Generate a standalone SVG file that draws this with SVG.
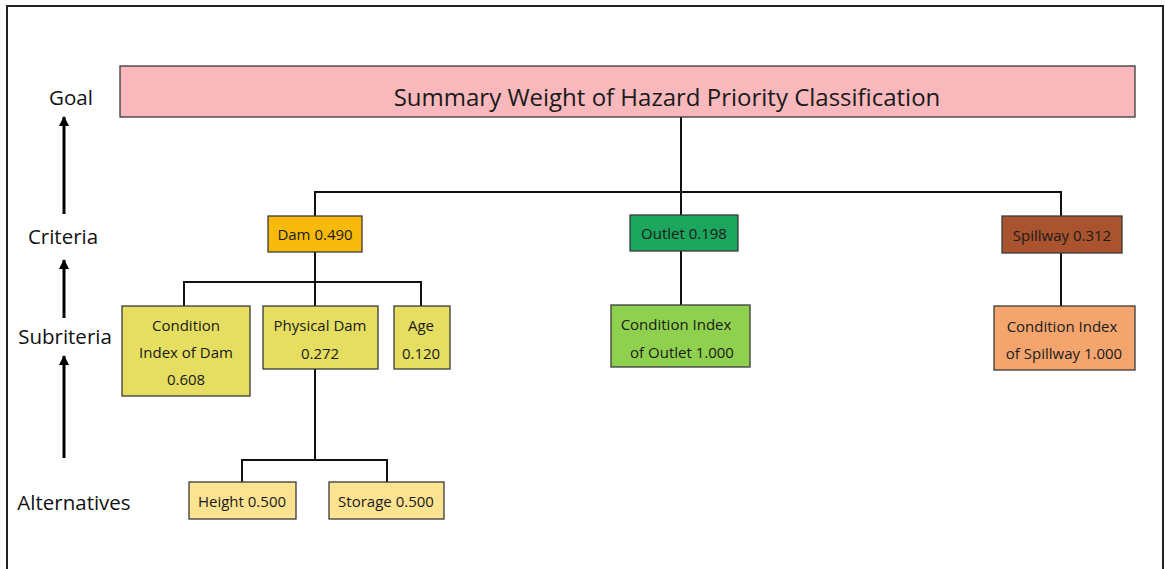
<svg xmlns="http://www.w3.org/2000/svg" width="1165" height="569" viewBox="0 0 1165 569">
<style>
  .box { stroke: #3a3a3a; stroke-width: 1.3; }
  .t { font-family: "Open Sans", "DejaVu Sans", sans-serif; font-size: 15px; fill: #1a1a1a; text-anchor: middle; dominant-baseline: central; }
  .lab { font-family: "Open Sans", "DejaVu Sans", sans-serif; font-size: 20.5px; fill: #111; text-anchor: middle; dominant-baseline: central; }
  .title { font-family: "Open Sans", "DejaVu Sans", sans-serif; font-size: 24px; fill: #1a1a1a; text-anchor: middle; dominant-baseline: central; }
  .conn { stroke: #111; stroke-width: 2; fill: none; }
  .arr { stroke: #000; stroke-width: 3; fill: none; }
</style>
<defs>
  <marker id="ah" viewBox="0 0 10 10" refX="9" refY="5" markerWidth="3.5" markerHeight="3.5" orient="auto" markerUnits="strokeWidth">
    <path d="M0,0 L10,5 L0,10 z" fill="#000"/>
  </marker>
</defs>
<rect width="1165" height="569" fill="#fff"/>
<rect x="7" y="6" width="1156" height="580" fill="none" stroke="#222" stroke-width="2"/>

<g id="level-labels">
  <text class="lab" x="71" y="97">Goal</text>
  <text class="lab" x="63" y="236">Criteria</text>
  <text class="lab" x="65" y="336">Subriteria</text>
  <text class="lab" x="74" y="502">Alternatives</text>
  <line class="arr" x1="64" y1="214" x2="64" y2="117" marker-end="url(#ah)"/>
  <line class="arr" x1="64" y1="318" x2="64" y2="260" marker-end="url(#ah)"/>
  <line class="arr" x1="64" y1="458" x2="64" y2="356" marker-end="url(#ah)"/>
</g>

<g id="connectors">
  <path class="conn" d="M681,117 V192 M315,216 V192 H1061 V216 M681,192 V215"/>
  <path class="conn" d="M681,251 V305"/>
  <path class="conn" d="M1061,253 V306"/>
  <path class="conn" d="M315,252 V306 M184,306 V282 H421 V306"/>
  <path class="conn" d="M315,369 V460 M242,482 V460 H387 V482"/>
</g>

<g id="goal">
  <rect class="box" x="120" y="66" width="1015" height="51" fill="#F8B8BC"/>
  <text class="title" x="667" y="96">Summary Weight of Hazard Priority Classification</text>
</g>

<g id="dam">
  <rect class="box" x="268" y="216" width="94" height="36" fill="#F8BA0A"/>
  <text class="t" x="315" y="234">Dam 0.490</text>
</g>
<g id="outlet">
  <rect class="box" x="630" y="215" width="108" height="36" fill="#1CA55C"/>
  <text class="t" x="684" y="233">Outlet 0.198</text>
</g>
<g id="spillway">
  <rect class="box" x="1002" y="216" width="120" height="37" fill="#AA532F"/>
  <text class="t" x="1062" y="235">Spillway 0.312</text>
</g>

<g id="ci-dam">
  <rect class="box" x="122" y="306" width="128" height="90" fill="#E5DE60"/>
  <text class="t" x="186" y="325">Condition</text>
  <text class="t" x="186" y="352">Index of Dam</text>
  <text class="t" x="186" y="379">0.608</text>
</g>
<g id="physical-dam">
  <rect class="box" x="263" y="306" width="115" height="63" fill="#E5DE60"/>
  <text class="t" x="320" y="325">Physical Dam</text>
  <text class="t" x="320" y="353">0.272</text>
</g>
<g id="age">
  <rect class="box" x="394" y="306" width="56" height="63" fill="#E5DE60"/>
  <text class="t" x="421" y="325">Age</text>
  <text class="t" x="421" y="353">0.120</text>
</g>
<g id="ci-outlet">
  <rect class="box" x="611" y="305" width="139" height="62" fill="#8FD14F"/>
  <text class="t" x="676" y="324">Condition Index</text>
  <text class="t" x="682" y="352">of Outlet 1.000</text>
</g>
<g id="ci-spillway">
  <rect class="box" x="994" y="306" width="141" height="64" fill="#F4A56E"/>
  <text class="t" x="1062" y="326">Condition Index</text>
  <text class="t" x="1064" y="353">of Spillway 1.000</text>
</g>

<g id="height">
  <rect class="box" x="189" y="482" width="107" height="37" fill="#FCE391"/>
  <text class="t" x="242" y="501">Height 0.500</text>
</g>
<g id="storage">
  <rect class="box" x="329" y="482" width="115" height="37" fill="#FCE391"/>
  <text class="t" x="386" y="501">Storage 0.500</text>
</g>
</svg>
